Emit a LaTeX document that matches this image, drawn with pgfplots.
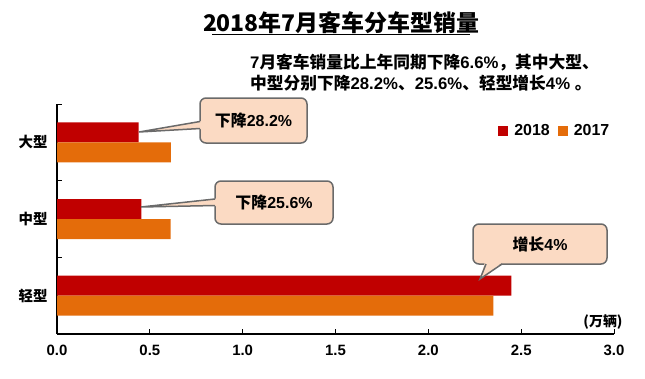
\documentclass[border=0pt]{standalone}
\usepackage{pgfplots}
\pgfplotsset{compat=1.18}
\usepackage{pgfplotstable}
\usepackage{fontspec}
\setmainfont{Liberation Sans}
\newfontfamily\cjk{Noto Sans CJK SC}
\newcommand\zh[1]{{\cjk\bfseries #1}}
\definecolor{c18}{HTML}{C00000}
\definecolor{c17}{HTML}{E46C0A}
\definecolor{cfill}{HTML}{FBDAC3}
\definecolor{cline}{HTML}{6A6A6A}

\pgfplotstableread{
y v
2 0.440
1 0.454
0 2.447
}\dataA
\pgfplotstableread{
y v
2 0.613
1 0.612
0 2.350
}\dataB

\begin{document}
\begin{tikzpicture}[x=1bp,y=1bp]
\useasboundingbox (0,0) rectangle (645,378);
\begin{axis}[
  at={(57bp,44bp)}, anchor=south west,
  scale only axis, width=557bp, height=230bp,
  xbar, bar width=20bp,
  xmin=0, xmax=3, ymin=-0.5, ymax=2.5,
  enlargelimits=false,
  axis x line*=bottom, axis y line*=left,
  axis line style={-, line width=1.2bp, black},
  tick align=inside,
  major tick length=0pt, minor tick length=5bp,
  tick style={line width=1bp, black},
  xtick={0,0.5,1,1.5,2,2.5,3},
  minor xtick={0,0.5,1,1.5,2,2.5,3},
  xticklabel style={font=\bfseries\fontsize{15}{17}\selectfont, yshift=-8bp,
    /pgf/number format/fixed, /pgf/number format/fixed zerofill,
    /pgf/number format/precision=1, /pgf/number format/assume math mode=true},
  ytick={0,1,2},
  yticklabels={\zh{轻型},\zh{中型},\zh{大型}},
  minor ytick={-0.5,0.5,1.5,2.5},
  yticklabel style={font=\fontsize{14.5}{16}\selectfont, xshift=-6bp},
  legend columns=2,
  legend style={draw=none, fill=none, at={(0.792,0.883)}, anchor=west,
    inner sep=0pt, font=\bfseries\fontsize{16}{18}\selectfont,
    /tikz/every odd column/.append style={column sep=6bp},
    /tikz/every even column/.append style={column sep=8bp},
    nodes={inner sep=0pt}},
  legend image code/.code={\fill[#1] (0bp,-5bp) rectangle (10bp,5bp);},
]
\addplot[xbar, fill=c18, draw=none, bar shift=10bp] table[x=v,y=y]{\dataA};
\addplot[xbar, fill=c17, draw=none, bar shift=-10bp] table[x=v,y=y]{\dataB};
\legend{2018,2017}
\end{axis}

% title
\node[anchor=base] at (341,346.3) {\zh{\fontsize{23}{26}\selectfont 2018年7月客车分车型销量}};
\draw[line width=1.4bp] (212,343.5) -- (470,343.5);

% subtitle
\node[anchor=base west, inner sep=0pt, font=\bfseries\fontsize{16.8}{19}\selectfont] at (250,310)
  {7\zh{月客车销量比上年同期下降}6.6\%\zh{，其中大型、}};
\node[anchor=base west, inner sep=0pt, font=\bfseries\fontsize{16.8}{19}\selectfont] at (250,289)
  {\zh{中型分别下降}28.2\%\zh{、}25.6\%\zh{、轻型增长}4\% \zh{。}};

% callouts
\tikzset{cbox/.style={fill=cfill, draw=cline, line width=1.5bp, rounded corners=6bp}}
% large
\draw[cbox] (200,235) rectangle (307,280);
\fill[cfill] (139,246) -- (202,257) -- (202,249) -- cycle;
\draw[cline, line width=1.5bp] (200,256.5) -- (139,246) -- (200,249.5);
\node[font=\bfseries\fontsize{16}{18}\selectfont] at (253.5,257.5) {\zh{下降}28.2\%};
% medium
\draw[cbox] (215,154) rectangle (333,197);
\fill[cfill] (141,171) -- (217,179.5) -- (217,172) -- cycle;
\draw[cline, line width=1.5bp] (215,179) -- (141,171) -- (215,172.5);
\node[font=\bfseries\fontsize{16}{18}\selectfont] at (274,175.5) {\zh{下降}25.6\%};
% light
\draw[cbox] (473,114) rectangle (607,154);
\fill[cfill] (480,99) -- (485,116) -- (503,116) -- cycle;
\draw[cline, line width=1.5bp] (486,114) -- (480,99) -- (502,114);
\node[font=\bfseries\fontsize{16}{18}\selectfont] at (540,134) {\zh{增长}4\%};

% unit
\node[font=\fontsize{14}{16}\selectfont] at (603,56) {\zh{(万辆)}};
\end{tikzpicture}
\end{document}
